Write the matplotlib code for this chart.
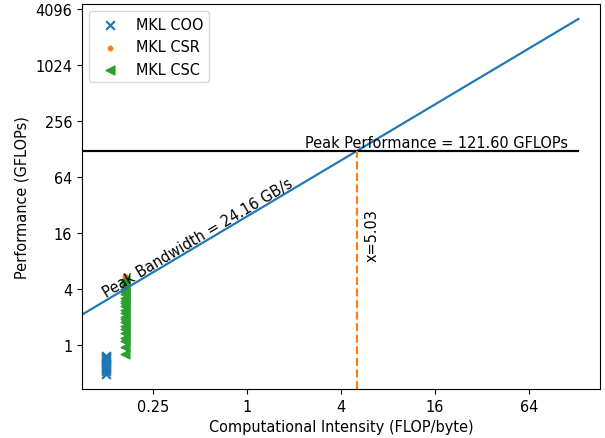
import numpy as np
import matplotlib
matplotlib.use("Agg")
import matplotlib.pyplot as plt
from matplotlib.ticker import FixedLocator, FixedFormatter

plt.rcParams["font.size"] = 10.45
plt.rcParams["lines.linewidth"] = 1.57
plt.rcParams["lines.markersize"] = 6.3

# machine limits
PEAK_BW = 24.16      # GB/s
PEAK_PERF = 121.60   # GFLOPs
RIDGE = PEAK_PERF / PEAK_BW

# measured kernels: computational intensity and performance
coo_ci = 0.125
coo_perf = [0.49, 0.52, 0.55, 0.57, 0.60, 0.62, 0.65, 0.67, 0.70, 0.72, 0.74, 0.76]
csr_ci = 0.1667
csr_perf = [4.3, 4.6, 4.9, 5.2, 5.5, 5.0]
csc_ci = 0.1667
csc_perf = [0.80, 0.95, 1.10, 1.20, 1.35, 1.50, 1.60, 1.75, 1.90, 2.00, 2.20,
            2.40, 2.60, 2.80, 3.00, 3.20, 3.50, 3.70, 4.00, 4.30, 4.60, 5.00]

x_ticks = [0.25, 1, 4, 16, 64]
x_labels = ["0.25", "1", "4", "16", "64"]
y_ticks = [1, 4, 16, 64, 256, 1024, 4096]
y_labels = ["1", "4", "16", "64", "256", "1024", "4096"]

XMIN, XMAX = 2 ** -3.51, 2 ** 7.51
YMIN, YMAX = 2 ** -1.57, 2 ** 12.18
LINE_END = 132.5

fig = plt.figure(figsize=(6.05, 4.39), dpi=100)
ax = fig.add_axes([82 / 605, 1 - 390 / 439, 518 / 605, 385 / 439])
ax.set_xscale("log", base=2)
ax.set_yscale("log", base=2)
ax.set_xlim(XMIN, XMAX)
ax.set_ylim(YMIN, YMAX)

# bandwidth roof
bw_x = np.array([XMIN, LINE_END])
ax.plot(bw_x, PEAK_BW * bw_x, color="C0")

# compute roof
ax.plot([XMIN, LINE_END], [PEAK_PERF, PEAK_PERF], color="black")
ax.text(114, PEAK_PERF * 1.03, f"Peak Performance = {PEAK_PERF:.2f} GFLOPs",
        ha="right", va="bottom")

# ridge point
ax.plot([RIDGE, RIDGE], [YMIN, PEAK_PERF], "--", color="C1")
ax.text(RIDGE * 1.13, 8, f"x={RIDGE:.2f}", rotation=90, ha="left", va="bottom")

# label rotated along the bandwidth roof
p1 = ax.transData.transform((1, PEAK_BW))
p2 = ax.transData.transform((10, PEAK_BW * 10))
angle = np.degrees(np.arctan2(p2[1] - p1[1], p2[0] - p1[0]))
lbl_x = 0.128
ax.text(lbl_x, PEAK_BW * lbl_x * 1.0, f"Peak Bandwidth = {PEAK_BW:.2f} GB/s",
        rotation=angle, rotation_mode="anchor", ha="left", va="bottom")

ax.scatter([coo_ci] * len(coo_perf), coo_perf, marker="x", color="C0", label="MKL COO")
ax.scatter([csr_ci] * len(csr_perf), csr_perf, marker=".", color="C1", label="MKL CSR")
ax.scatter([csc_ci] * len(csc_perf), csc_perf, marker="<", color="C2", label="MKL CSC")

ax.xaxis.set_major_locator(FixedLocator(x_ticks))
ax.xaxis.set_major_formatter(FixedFormatter(x_labels))
ax.xaxis.set_minor_locator(FixedLocator([]))
ax.yaxis.set_major_locator(FixedLocator(y_ticks))
ax.yaxis.set_major_formatter(FixedFormatter(y_labels))
ax.yaxis.set_minor_locator(FixedLocator([]))

ax.set_xlabel("Computational Intensity (FLOP/byte)")
ax.set_ylabel("Performance (GFLOPs)")
ax.legend(loc="upper left")

fig.savefig("out.png", dpi=100)
